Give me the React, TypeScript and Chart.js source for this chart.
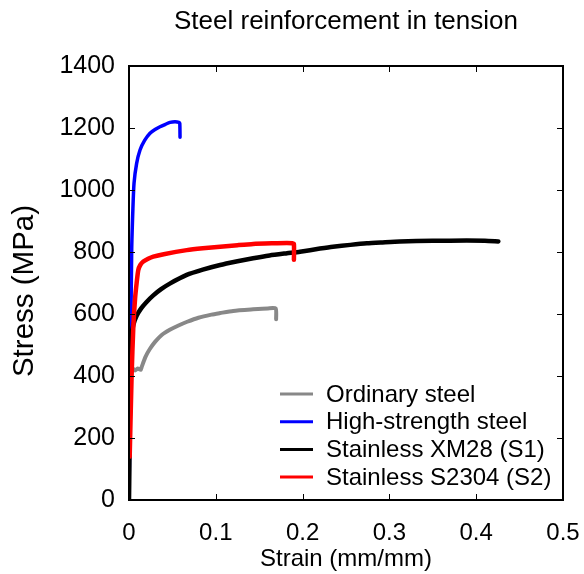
import React, { useEffect, useRef } from "react";
import { Chart, registerables } from "chart.js";

Chart.register(...registerables);

const FONT = "'Liberation Sans', Arial, Helvetica, sans-serif";

const chartTitle = "Steel reinforcement in tension";
const xTitle = "Strain (mm/mm)";
const yTitle = "Stress (MPa)";

const seriesLabels = [
  "Ordinary steel",
  "High-strength steel",
  "Stainless XM28 (S1)",
  "Stainless S2304 (S2)",
];
const seriesColors = ["#888888", "#0000ff", "#000000", "#ff0000"];
const seriesWidths = [4, 3.5, 4.5, 4.5];
const seriesOrder = [4, 3, 2, 1];

const xTicks = [0, 0.1, 0.2, 0.3, 0.4, 0.5];
const yTicks = [0, 200, 400, 600, 800, 1000, 1200, 1400];

const ordinaryStrain = [0, 0.0021, 0.004, 0.007, 0.01, 0.0135, 0.0145, 0.016, 0.019, 0.024, 0.03, 0.038, 0.047, 0.057, 0.067, 0.08, 0.095, 0.105, 0.12, 0.143, 0.16, 0.169, 0.1695];
const ordinaryStress = [0, 420, 425, 418, 424, 420, 428, 440, 462, 487, 510, 533, 549, 563, 575, 588, 598, 603, 610, 615, 618, 618, 583];

const highStrain = [0, 0.0031, 0.0045, 0.0058, 0.0088, 0.0127, 0.018, 0.0242, 0.03, 0.0357, 0.042, 0.0472, 0.053, 0.0576, 0.0585, 0.0588];
const highStress = [0, 806, 940, 1022, 1086, 1129, 1160, 1183, 1195, 1204, 1212, 1218, 1220, 1218, 1215, 1170];

const xm28Strain = [0, 0.0015, 0.003, 0.005, 0.0088, 0.014, 0.02, 0.028, 0.037, 0.047, 0.0665, 0.085, 0.105, 0.125, 0.143, 0.162, 0.182, 0.197, 0.22, 0.235, 0.255, 0.274, 0.292, 0.312, 0.35, 0.389, 0.41, 0.4255];
const xm28Stress = [0, 420, 530, 565, 594, 618, 638, 660, 680, 698, 726, 743, 758, 770, 780, 789, 796, 801, 811, 817, 823, 828, 831, 834, 836, 837, 836, 834];

const s2304Strain = [0.0008, 0.003, 0.005, 0.007, 0.0088, 0.0107, 0.013, 0.0165, 0.022, 0.028, 0.04, 0.0665, 0.085, 0.105, 0.125, 0.143, 0.165, 0.182, 0.188, 0.19, 0.19];
const s2304Stress = [140, 400, 560, 650, 700, 742, 758, 769, 778, 785, 793, 806, 812, 817, 822, 826, 828, 829, 828, 825, 775];

const seriesStrain = [ordinaryStrain, highStrain, xm28Strain, s2304Strain];
const seriesStress = [ordinaryStress, highStress, xm28Stress, s2304Stress];

const framePlugin = {
  id: "frameTicks",
  afterDatasetsDraw(chart: any) {
    const { ctx, chartArea, scales } = chart;
    const { left, right, top, bottom } = chartArea;
    ctx.save();
    ctx.strokeStyle = "#000";
    ctx.lineWidth = 1;
    const tl = 6;
    ctx.beginPath();
    xTicks.forEach((v) => {
      const x = Math.round(scales.x.getPixelForValue(v)) + 0.5;
      ctx.moveTo(x, bottom);
      ctx.lineTo(x, bottom - tl);
      ctx.moveTo(x, top);
      ctx.lineTo(x, top + tl);
    });
    yTicks.forEach((v) => {
      const y = Math.round(scales.y.getPixelForValue(v)) + 0.5;
      ctx.moveTo(left, y);
      ctx.lineTo(left + tl, y);
      ctx.moveTo(right, y);
      ctx.lineTo(right - tl, y);
    });
    ctx.stroke();
    ctx.lineWidth = 2;
    ctx.strokeRect(left, top, right - left, bottom - top);
    ctx.restore();
  },
};

const yTitlePlugin = {
  id: "yTitle",
  afterDraw(chart: any) {
    const { ctx, chartArea } = chart;
    ctx.save();
    ctx.translate(25, (chartArea.top + chartArea.bottom) / 2 + 8);
    ctx.rotate(-Math.PI / 2);
    ctx.font = `29.5px ${FONT}`;
    ctx.fillStyle = "#000";
    ctx.textAlign = "center";
    ctx.textBaseline = "middle";
    ctx.fillText(yTitle, 0, 0);
    ctx.restore();
  },
};

const legendPlugin = {
  id: "insideLegend",
  afterDraw(chart: any) {
    const { ctx, chartArea } = chart;
    const rowGap = 27.7;
    const firstRow = chartArea.bottom - 106;
    const lineStart = chartArea.right - 283;
    const lineEnd = chartArea.right - 250;
    const textX = chartArea.right - 237;
    ctx.save();
    ctx.font = `24px ${FONT}`;
    ctx.textAlign = "left";
    ctx.textBaseline = "middle";
    chart.data.datasets.forEach((ds: any, i: number) => {
      const y = firstRow + i * rowGap;
      ctx.strokeStyle = ds.borderColor;
      ctx.lineWidth = 3;
      ctx.beginPath();
      ctx.moveTo(lineStart, y);
      ctx.lineTo(lineEnd, y);
      ctx.stroke();
      ctx.fillStyle = "#000";
      ctx.fillText(ds.label, textX, y + 1);
    });
    ctx.restore();
  },
};

export default function App() {
  const ref = useRef<HTMLCanvasElement | null>(null);

  useEffect(() => {
    if (!ref.current) return;
    const datasets = seriesLabels.map((label, i) => ({
      label,
      data: seriesStrain[i].map((x, j) => ({ x, y: seriesStress[i][j] })),
      borderColor: seriesColors[i],
      backgroundColor: seriesColors[i],
      borderWidth: seriesWidths[i],
      pointRadius: 0,
      tension: 0.2,
      fill: false,
      order: seriesOrder[i],
      borderJoinStyle: "round" as const,
      borderCapStyle: "round" as const,
    }));
    const chart = new Chart(ref.current, {
      type: "line",
      data: { datasets },
      options: {
        animation: false,
        responsive: false,
        maintainAspectRatio: false,
        layout: { padding: { left: 0, right: 21, top: 0, bottom: 0 } },
        plugins: {
          legend: { display: false },
          tooltip: { enabled: false },
          title: {
            display: true,
            text: chartTitle,
            fullSize: false,
            color: "#000",
            font: { family: FONT, size: 26, weight: "normal" },
            padding: { top: 6, bottom: 28.8 },
          },
        },
        scales: {
          x: {
            type: "linear",
            min: 0,
            max: 0.5,
            afterBuildTicks: (s: any) => {
              s.ticks = xTicks.map((v) => ({ value: v }));
            },
            afterFit: (s: any) => {
              s.height = 74;
              s.paddingLeft = 0;
              s.paddingRight = 0;
            },
            ticks: {
              color: "#000",
              font: { family: FONT, size: 24 },
              padding: 19,
              maxRotation: 0,
              autoSkip: false,
              callback: (v: any) => String(v),
            },
            grid: { display: false, drawTicks: false },
            border: { display: false },
            title: {
              display: true,
              text: xTitle,
              color: "#000",
              font: { family: FONT, size: 24 },
              padding: { top: 0, bottom: 0 },
            },
          },
          y: {
            type: "linear",
            min: 0,
            max: 1400,
            afterBuildTicks: (s: any) => {
              s.ticks = yTicks.map((v) => ({ value: v }));
            },
            afterFit: (s: any) => {
              s.width = 129;
            },
            ticks: {
              color: "#000",
              font: { family: FONT, size: 25 },
              padding: 14,
              autoSkip: false,
              callback: (v: any) => String(v),
            },
            grid: { display: false, drawTicks: false },
            border: { display: false },
            title: { display: false, text: yTitle },
          },
        },
      },
      plugins: [framePlugin, legendPlugin, yTitlePlugin],
    });
    return () => chart.destroy();
  }, []);

  return (
    <div style={{ position: "absolute", left: 0, top: 0, width: 584, height: 574, background: "#fff" }}>
      <canvas ref={ref} width={584} height={574} style={{ display: "block" }} />
    </div>
  );
}
